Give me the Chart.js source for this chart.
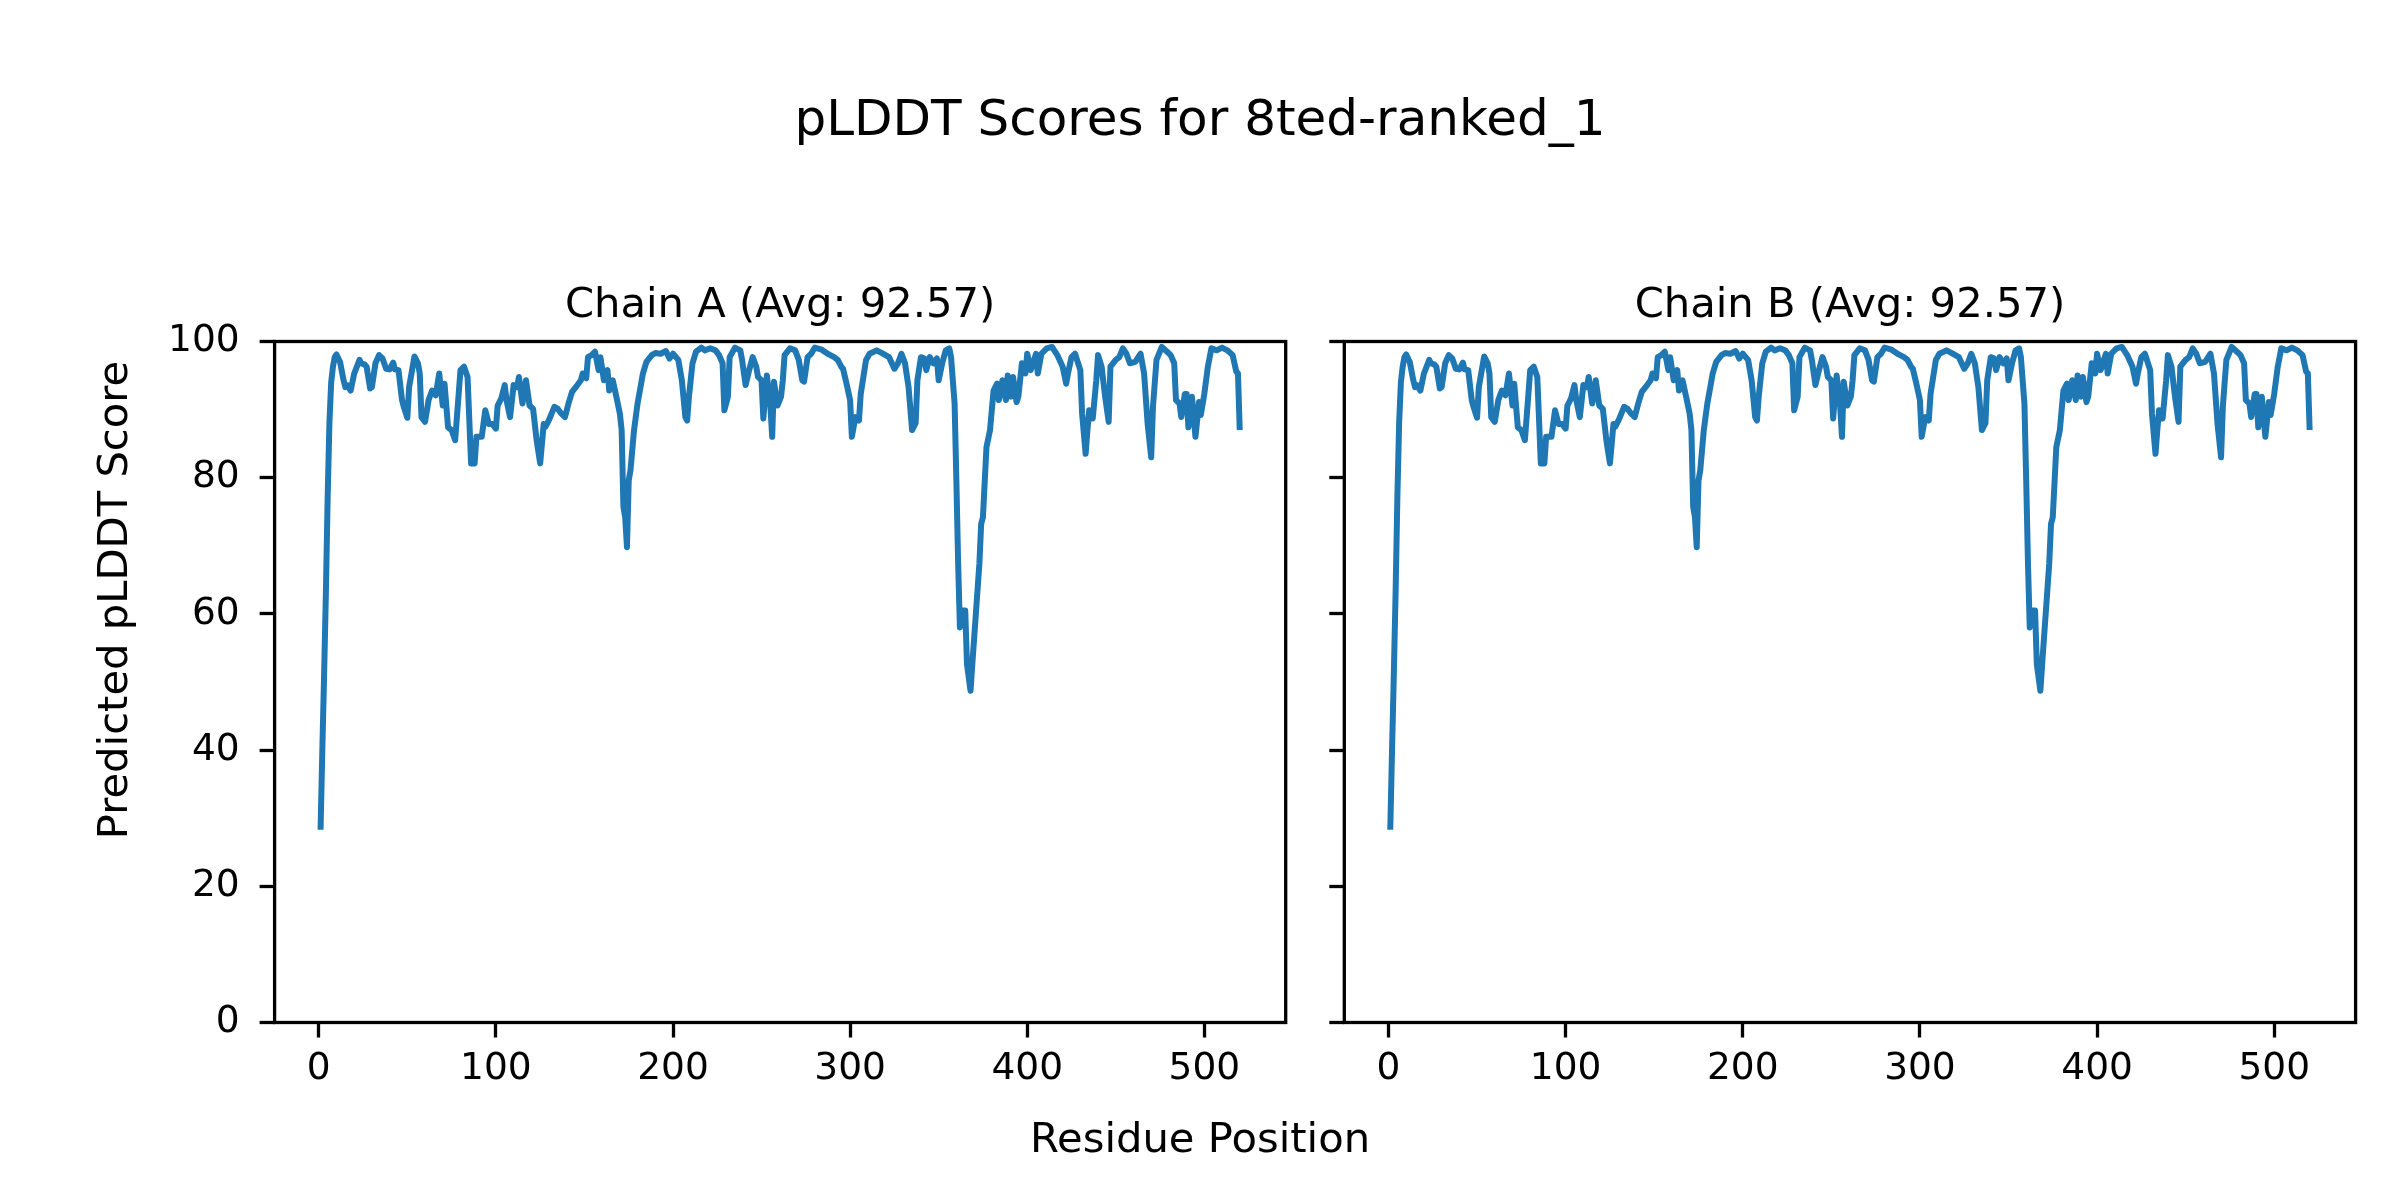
<!DOCTYPE html>
<html>
<head>
<meta charset="utf-8">
<title>pLDDT Scores for 8ted-ranked_1</title>
<script src="https://cdn.jsdelivr.net/npm/chart.js@4.4.0/dist/chart.umd.min.js"></script>
<style>
  body { margin: 0; background: #fff; }
  #fig { position: relative; width: 2400px; height: 1200px; }
  #fig canvas { position: absolute; left: 0; top: 0; }
</style>
</head>
<body>
<div id="fig">
  <canvas id="chainA" width="2400" height="1200"></canvas>
  <canvas id="chainB" width="2400" height="1200"></canvas>
</div>
<script>
const residues = [
  1, 2, 3, 4, 5, 6, 7, 8, 9, 10, 12, 14, 15, 16, 18, 20, 23, 24, 26, 27,
  29, 30, 32, 34, 36, 38, 40, 42, 43, 45, 47, 48, 50, 51, 53, 54, 56, 57, 58, 60,
  62, 64, 66, 68, 70, 71, 73, 75, 77, 80, 82, 84, 86, 88, 89, 92, 94, 96, 98, 100,
  101, 103, 105, 106, 108, 110, 112, 113, 115, 117, 119, 121, 123, 125, 127, 128, 130, 133, 135, 137,
  139, 141, 143, 146, 148, 149, 151, 152, 154, 156, 158, 159, 161, 163, 164, 166, 168, 170, 171, 172,
  173, 174, 175, 176, 178, 180, 182, 183, 185, 188, 190, 193, 196, 198, 200, 203, 205, 207, 208, 209,
  211, 213, 216, 218, 221, 224, 226, 228, 229, 231, 232, 235, 238, 239, 241, 243, 245, 247, 248, 250,
  251, 253, 255, 256, 257, 259, 261, 262, 263, 266, 269, 271, 273, 274, 276, 278, 280, 284, 288, 291,
  293, 295, 296, 298, 300, 301, 303, 305, 306, 309, 311, 315, 318, 322, 325, 327, 329, 331, 333, 335,
  337, 338, 340, 342, 343, 345, 347, 349, 350, 352, 354, 356, 357, 359, 360, 361, 362, 363, 365, 366,
  368, 369, 371, 373, 374, 375, 377, 379, 381, 383, 384, 386, 388, 389, 391, 392, 394, 395, 397, 399,
  400, 402, 405, 406, 408, 411, 414, 417, 420, 422, 423, 425, 427, 430, 431, 433, 434, 435, 437, 439,
  440, 442, 444, 446, 447, 450, 452, 454, 456, 458, 461, 464, 466, 468, 470, 471, 473, 476, 479, 481,
  483, 484, 486, 487, 489, 490, 491, 493, 495, 497, 498, 500, 502, 504, 507, 510, 513, 516, 518, 519,
  520
];

// chain A scores at those residues
const plddtA = [
  28.3, 40.0, 51.0, 63.0, 77.0, 88.0, 94.0, 96.3, 97.7, 98.1, 97.0, 94.3, 93.3, 93.6, 92.8, 95.3, 97.3, 96.8, 96.6, 96.3,
  93.1, 93.3, 96.8, 98.0, 97.5, 96.0, 95.9, 96.9, 95.9, 95.8, 91.4, 90.4, 88.8, 93.3, 96.3, 97.8, 96.8, 95.3, 88.9, 88.2,
  91.4, 92.8, 92.1, 95.3, 90.6, 93.8, 87.4, 87.0, 85.5, 95.8, 96.3, 94.8, 82.1, 82.1, 86.0, 86.0, 89.9, 87.9, 87.9, 87.2,
  90.6, 91.6, 93.6, 91.4, 88.9, 93.6, 93.3, 94.8, 90.9, 94.3, 90.6, 90.1, 85.5, 82.1, 87.9, 87.5, 88.5, 90.4, 90.1, 89.4,
  88.9, 90.9, 92.6, 93.6, 94.3, 95.3, 94.6, 97.7, 98.0, 98.5, 95.8, 97.7, 94.3, 95.8, 92.8, 94.3, 91.9, 89.4, 87.0, 75.7,
  74.2, 69.8, 79.6, 81.1, 87.0, 90.9, 93.8, 95.3, 97.0, 98.0, 98.3, 98.2, 98.6, 97.5, 98.2, 97.3, 94.3, 88.9, 88.4, 91.9,
  96.8, 98.5, 99.1, 98.7, 99.0, 98.7, 98.0, 96.8, 89.9, 91.9, 97.7, 99.1, 98.7, 97.3, 93.6, 95.8, 97.7, 96.3, 94.8, 94.3,
  88.7, 95.0, 90.4, 86.0, 94.1, 90.6, 91.9, 94.3, 98.0, 99.0, 98.7, 97.3, 94.3, 94.1, 97.7, 98.2, 99.1, 98.8, 98.1, 97.7,
  97.3, 96.3, 96.0, 93.8, 91.4, 86.0, 88.9, 88.4, 92.3, 97.3, 98.2, 98.7, 98.3, 97.7, 96.0, 96.8, 98.2, 96.8, 93.3, 87.0,
  88.0, 94.3, 97.7, 97.5, 95.8, 97.7, 96.8, 97.5, 94.3, 96.8, 98.7, 99.0, 97.7, 90.9, 79.6, 67.4, 58.0, 60.5, 60.5, 52.6,
  48.7, 52.6, 60.0, 67.4, 73.2, 74.2, 84.5, 87.0, 92.8, 93.8, 91.4, 94.3, 91.4, 95.0, 91.9, 94.8, 91.1, 91.9, 96.8, 95.3,
  98.2, 95.8, 98.2, 95.3, 98.2, 99.0, 99.2, 98.0, 96.3, 93.8, 95.3, 97.7, 98.2, 95.8, 89.4, 83.5, 87.0, 89.9, 88.7, 94.3,
  98.0, 96.3, 91.9, 88.2, 96.3, 97.3, 97.7, 99.0, 98.2, 96.8, 97.0, 98.2, 95.3, 87.9, 83.0, 90.4, 97.3, 99.2, 98.5, 98.0,
  96.8, 91.4, 90.9, 88.9, 92.3, 92.3, 87.4, 91.9, 86.0, 91.1, 89.2, 92.3, 96.3, 99.0, 98.7, 99.1, 98.7, 98.0, 95.6, 95.3,
  87.0
];

// chain B is drawn identical to chain A in the figure
const plddtB = plddtA.slice();

const chainTitles = ["Chain A (Avg: 92.57)", "Chain B (Avg: 92.57)"];
const xTicks = [0, 100, 200, 300, 400, 500];
const yTicks = [0, 20, 40, 60, 80, 100];

const lineColor = "#1f77b4";
const fontFamily = "'DejaVu Sans', sans-serif";

// frame around the axes + panel title above it
const framePlugin = {
  id: "frame",
  afterDraw(chart, args, opts) {
    const ctx = chart.ctx;
    const a = chart.chartArea;
    ctx.save();
    ctx.strokeStyle = "#000";
    ctx.lineWidth = 3.3;
    ctx.strokeRect(a.left, a.top, a.right - a.left, a.bottom - a.top);
    ctx.fillStyle = "#000";
    ctx.font = "41.7px " + fontFamily;
    ctx.textAlign = "center";
    ctx.textBaseline = "alphabetic";
    ctx.fillText(opts.title, (a.left + a.right) / 2, a.top - 25);
    ctx.restore();
  }
};

// figure level texts (suptitle, supxlabel, supylabel), drawn once
const figTextPlugin = {
  id: "figText",
  afterDraw(chart) {
    const ctx = chart.ctx;
    ctx.save();
    ctx.fillStyle = "#000";
    ctx.textAlign = "center";
    ctx.textBaseline = "alphabetic";
    ctx.font = "50px " + fontFamily;
    ctx.fillText("pLDDT Scores for 8ted-ranked_1", 1200, 135);
    ctx.font = "41.7px " + fontFamily;
    ctx.fillText("Residue Position", 1200, 1152);
    ctx.translate(127, 600);
    ctx.rotate(-Math.PI / 2);
    ctx.fillText("Predicted pLDDT Score", 0, 0);
    ctx.restore();
  }
};

function makeChart(canvasId, values, title, padLeft, padRight, yWidth, showYLabels, extraPlugins) {
  const ctx = document.getElementById(canvasId).getContext("2d");
  return new Chart(ctx, {
    type: "line",
    data: {
      datasets: [{
        data: residues.map((r, i) => ({ x: r, y: values[i] })),
        borderColor: lineColor,
        borderWidth: 6,
        borderJoinStyle: "round",
        pointRadius: 0,
        tension: 0,
        fill: false
      }]
    },
    options: {
      responsive: false,
      animation: false,
      devicePixelRatio: 1,
      layout: { padding: { left: padLeft, right: padRight, top: 341.5, bottom: 77.5 } },
      plugins: {
        legend: { display: false },
        tooltip: { enabled: false },
        frame: { title: title }
      },
      scales: {
        x: {
          type: "linear",
          min: -24.95,
          max: 545.95,
          afterFit(scale) { scale.height = 100; },
          afterBuildTicks(scale) { scale.ticks = xTicks.map(v => ({ value: v })); },
          border: { display: false },
          grid: { drawOnChartArea: false, drawTicks: true, tickLength: 15, tickWidth: 3.3, tickColor: "#000" },
          ticks: { color: "#000", font: { family: fontFamily, size: 37.5 }, padding: 9, maxRotation: 0 }
        },
        y: {
          type: "linear",
          min: 0,
          max: 100,
          afterFit(scale) { scale.width = yWidth; },
          afterBuildTicks(scale) { scale.ticks = yTicks.map(v => ({ value: v })); },
          border: { display: false },
          grid: { drawOnChartArea: false, drawTicks: true, tickLength: 15, tickWidth: 3.3, tickColor: "#000" },
          ticks: { display: showYLabels, color: "#000", font: { family: fontFamily, size: 37.5 }, padding: 20 }
        }
      }
    },
    plugins: [framePlugin].concat(extraPlugins)
  });
}

makeChart("chainA", plddtA, chainTitles[0], 85, 2400 - 1285.7, 189.6, true, [figTextPlugin]);
makeChart("chainB", plddtB, chainTitles[1], 1322.3, 2400 - 2355.6, 22, false, []);
</script>
</body>
</html>
